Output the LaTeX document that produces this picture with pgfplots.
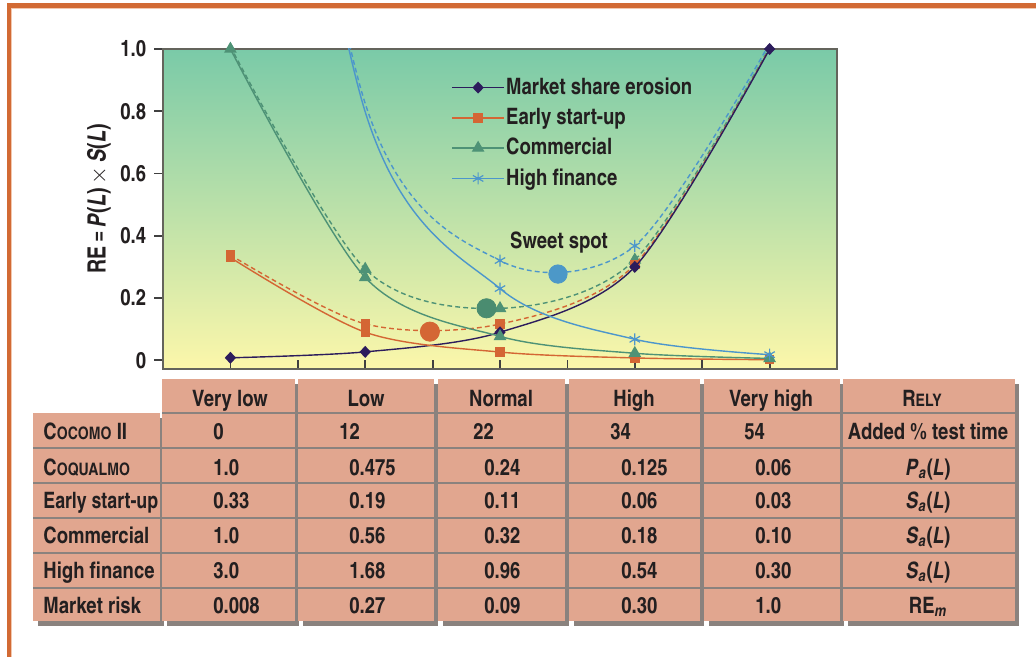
\documentclass[border=0pt]{standalone}
\usepackage{fontspec}
\setmainfont{texgyreheroscn}[Extension=.otf, UprightFont=*-regular, BoldFont=*-bold, ItalicFont=*-italic, BoldItalicFont=*-bolditalic]
\usepackage{graphicx}
\usepackage{pgfplots}
\pgfplotsset{compat=1.18}

\definecolor{cnavy}{RGB}{44,28,92}
\definecolor{corange}{RGB}{212,102,52}
\definecolor{cgreen}{RGB}{78,146,118}
\definecolor{cblue}{RGB}{76,150,204}
\definecolor{ctop}{RGB}{122,202,168}
\definecolor{cbot}{RGB}{252,247,170}
\definecolor{csalmon}{RGB}{225,166,143}
\definecolor{cshade}{RGB}{138,130,126}
\definecolor{cframe}{RGB}{210,106,52}
\definecolor{cpeach}{RGB}{242,200,175}
\definecolor{ctext}{RGB}{35,31,32}
\definecolor{caxis}{RGB}{100,100,92}

% fake small caps: big first letter, rest smaller capitals
\newcommand{\fsc}[2]{#1{\fontsize{8.6pt}{9pt}\selectfont #2}}

% table helpers, pixel coordinates
\newcommand{\tcol}[4]{%
  \fill[cshade] (#1+5,#2+5) rectangle (#3+4,#4+5);
  \fill[csalmon] (#1,#2) rectangle (#3,#4);}
\newcommand{\rowvals}[7]{%
  \node[anchor=base west] at (213,#1) {#2};
  \node[anchor=base west] at (349,#1) {#3};
  \node[anchor=base west] at (484,#1) {#4};
  \node[anchor=base west] at (621,#1) {#5};
  \node[anchor=base west] at (755,#1) {#6};
  \node[anchor=base] at (928,#1) {#7};}

\pgfplotsset{
  solidline/.style={line width=0.7pt, smooth, tension=0.5},
  dashline/.style={line width=0.7pt, smooth, tension=0.5, dash pattern=on 2.4pt off 1.6pt},
  navymk/.style={color=cnavy, mark=diamond*, mark size=2.5pt, mark options={solid, xscale=1.25, fill=cnavy}},
  orangemk/.style={color=corange, mark=square*, mark size=2pt, mark options={solid, fill=corange}},
  greenmk/.style={color=cgreen, mark=triangle*, mark size=3pt, mark options={solid, fill=cgreen}},
  bluemk/.style={color=cblue, mark=asterisk, mark size=3pt, mark options={solid, line width=0.6pt}},
}

\begin{document}
\fontsize{11.3pt}{13.2pt}\selectfont
\begin{tikzpicture}[font=\bfseries]
\begin{scope}[x=0.5pt,y=-0.5pt]
  \fill[white] (0,0) rectangle (1036,657);
  % frame
  \fill[cpeach] (11,8) rectangle (1036,9);
  \fill[cpeach] (11,8) rectangle (12,657);
  \fill[cframe] (7,3.3) rectangle (1036,8);
  \fill[cframe] (7,3.3) rectangle (11,657);
  % table boxes
  \tcol{33}{413}{160}{621}
  \tcol{162}{379}{295}{621}
  \tcol{298}{379}{434}{621}
  \tcol{438}{379}{565}{621}
  \tcol{569}{379}{700}{621}
  \tcol{704}{379}{840}{621}
  \tcol{843}{379}{1015}{621}
  \foreach \yy in {447.5,482.5,517.5,552.5,587.5}
    \draw[cshade, line width=1pt] (33,\yy) -- (160,\yy);
  \foreach \xa/\xb in {162/295,298/434,438/565,569/700,704/840,843/1015}
    \foreach \yy in {412.5,447.5,482.5,517.5,552.5,587.5}
      \draw[cshade, line width=1pt] (\xa,\yy) -- (\xb,\yy);
  % table text
  \begin{scope}[every node/.style={inner sep=0pt, text=ctext}]
    \node[anchor=base] at (230,406) {Very low};
    \node[anchor=base] at (366,406) {Low};
    \node[anchor=base] at (501,406) {Normal};
    \node[anchor=base] at (634,406) {High};
    \node[anchor=base] at (771,406) {Very high};
    \node[anchor=base] at (922,406) {\fsc{R}{ELY}};
    \node[anchor=base west] at (43,439) {\fsc{C}{OCOMO} II};
    \node[anchor=base west] at (43,475) {\fsc{C}{OQUALMO}};
    \node[anchor=base west] at (43,508) {\scalebox{0.96}[1]{Early start-up}};
    \node[anchor=base west] at (43,543) {Commercial};
    \node[anchor=base west] at (43,578) {High finance};
    \node[anchor=base west] at (43,613) {Market risk};
    \node[anchor=base west] at (213,439) {0};
    \node[anchor=base west] at (339,439) {12};
    \node[anchor=base west] at (473,439) {22};
    \node[anchor=base west] at (610,439) {34};
    \node[anchor=base west] at (744,439) {54};
    \node[anchor=base] at (928,439) {Added \% test time};
    \rowvals{475}{1.0}{0.475}{0.24}{0.125}{0.06}{\textit{P}\textsubscript{\itshape a}(\textit{L})}
    \rowvals{508}{0.33}{0.19}{0.11}{0.06}{0.03}{\textit{S}\textsubscript{\itshape a}(\textit{L})}
    \rowvals{543}{1.0}{0.56}{0.32}{0.18}{0.10}{\textit{S}\textsubscript{\itshape a}(\textit{L})}
    \rowvals{578}{3.0}{1.68}{0.96}{0.54}{0.30}{\textit{S}\textsubscript{\itshape a}(\textit{L})}
    \rowvals{613}{0.008}{0.27}{0.09}{0.30}{1.0}{RE\textsubscript{\itshape m}}
  \end{scope}
\end{scope}

\begin{axis}[
  at={(81.5pt,-184.5pt)}, anchor=south west,
  scale only axis, width=337pt, height=160pt,
  xmin=-0.5, xmax=4.5, ymin=-0.028, ymax=1.0,
  xtick={0,0.5,1,1.5,2,2.5,3,3.5,4}, xticklabels={},
  ytick={0,0.2,0.4,0.6,0.8,1.0},
  yticklabels={0,0.2,0.4,0.6,0.8,1.0},
  tick pos=left, tick align=inside,
  major tick length=4.4pt,
  tick style={draw=black!75, line width=0.9pt},
  ytick style={xshift=-4.4pt},
  yticklabel style={xshift=-4.5pt, text=ctext},
  axis line style={draw=caxis, line width=0.9pt},
  axis background/.style={top color=ctop, bottom color=cbot},
  clip mode=individual,
  legend style={at={(0.4273,0.918)}, anchor=north west, draw=none, fill=none,
    inner sep=0pt, row sep=3.2pt, font=\bfseries,
    nodes={inner xsep=0.7pt, inner ysep=1pt, text=ctext}},
  legend cell align=left,
  legend image code/.code={\draw[#1] plot coordinates {(0pt,0pt) (13pt,0pt) (26pt,0pt)};},
  legend image post style={mark indices={2}},
]
% total risk exposure (dashed)
\addplot[dashline, bluemk, mark indices={2,3,4,5}, forget plot] coordinates {(0,3.008) (1,0.825) (2,0.3204) (3,0.3675) (4,1.018)};
\addplot[dashline, greenmk, forget plot] coordinates {(0,1.008) (1,0.293) (2,0.1668) (3,0.3225) (4,1.006)};
\addplot[dashline, orangemk, forget plot] coordinates {(0,0.338) (1,0.117) (2,0.1164) (3,0.3075) (4,1.0018)};
% components
\addplot[solidline, navymk] coordinates {(0,0.008) (1,0.027) (2,0.09) (3,0.30) (4,1.0)};
\addlegendentry{Market share erosion}
\addplot[solidline, orangemk] coordinates {(0,0.33) (1,0.09025) (2,0.0264) (3,0.0075) (4,0.0018)};
\addlegendentry{Early start-up}
\addplot[solidline, greenmk] coordinates {(0,1.0) (1,0.266) (2,0.0768) (3,0.0225) (4,0.006)};
\addlegendentry{Commercial}
\addplot[solidline, bluemk, mark indices={2,3,4,5}] coordinates {(0,3.0) (1,0.798) (2,0.2304) (3,0.0675) (4,0.018)};
\addlegendentry{High finance}
% sweet spots
\addplot[only marks, mark=*, mark size=4.8pt, color=corange, forget plot] coordinates {(1.48,0.092)};
\addplot[only marks, mark=*, mark size=4.8pt, color={rgb,255:red,74;green,140;blue,112}, forget plot] coordinates {(1.90,0.167)};
\addplot[only marks, mark=*, mark size=4.6pt, color={rgb,255:red,76;green,152;blue,200}, forget plot] coordinates {(2.43,0.277)};
\end{axis}

\begin{scope}[x=0.5pt,y=-0.5pt]
  \node[rotate=90, text=ctext, inner sep=0pt, font=\fontsize{12.6pt}{14pt}\bfseries] at (99,199)
    {\scalebox{0.95}[1]{RE\,=\,\textit{P}(\textit{L})\,$\times$\,\textit{S}(\textit{L})}};
  \node[text=ctext, inner sep=0pt] at (559,243) {Sweet spot};
\end{scope}
\pgfresetboundingbox
\path[use as bounding box] (0,0) rectangle (518pt,-328.5pt);
\end{tikzpicture}
\end{document}
